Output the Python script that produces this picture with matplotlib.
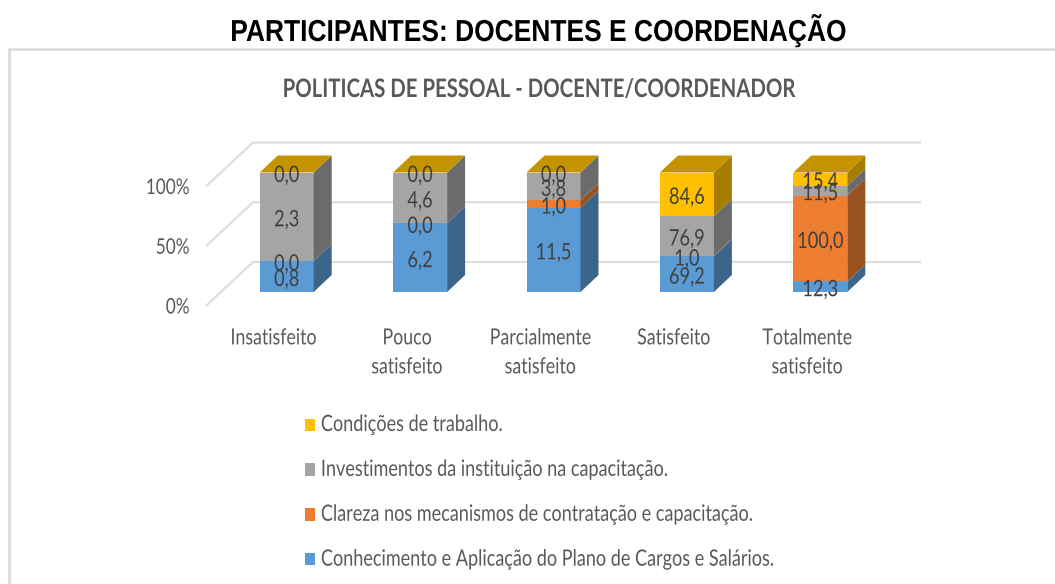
import matplotlib
matplotlib.use("Agg")
import matplotlib.pyplot as plt
from matplotlib.patches import Polygon, Patch
from matplotlib.patheffects import AbstractPathEffect
from matplotlib.lines import Line2D
from matplotlib.transforms import Affine2D
from matplotlib.colors import to_rgb

categories = ["Insatisfeito", "Pouco\nsatisfeito", "Parcialmente\nsatisfeito", "Satisfeito", "Totalmente\nsatisfeito"]
conhecimento = [0.8, 6.2, 11.5, 69.2, 12.3]
clareza = [0.0, 0.0, 1.0, 1.0, 100.0]
investimentos = [2.3, 4.6, 3.8, 76.9, 11.5]
condicoes = [0.0, 0.0, 0.0, 84.6, 15.4]
y_ticks = [0, 50, 100]
y_tick_labels = ["0%", "50%", "100%"]
series = [
    ("Conhecimento e Aplicação do Plano de Cargos e Salários.", conhecimento, "#5B9BD5"),
    ("Clareza nos mecanismos de contratação e capacitação.", clareza, "#ED7D31"),
    ("Investimentos da instituição na capacitação.", investimentos, "#A5A5A5"),
    ("Condições de trabalho.", condicoes, "#FFC000"),
]
title = "POLITICAS DE PESSOAL - DOCENTE/COORDENADOR"
heading = "PARTICIPANTES: DOCENTES E COORDENAÇÃO"

W, H = 1055, 584
FONT = "Lato"
TXT = "#595959"
GRID = "#DEDEDE"


class TallText(AbstractPathEffect):
    """Draws the glyphs taller about their baseline: the reference text is condensed."""

    def __init__(self, k, shift=0):
        super().__init__()
        self.k = k
        self.shift = shift

    def draw_path(self, renderer, gc, tpath, affine, rgbFace=None):
        renderer.draw_path(gc, tpath, Affine2D().scale(1, self.k) + affine + Affine2D().translate(0, self.shift), rgbFace)


tall = [TallText(1.25)]

fig = plt.figure(figsize=(W / 100, H / 100), dpi=100, facecolor="white")
L, R, B, T = 207, 874, 305, 185.5
ax = fig.add_axes([L / W, 1 - B / H, (R - L) / W, (B - T) / H])
ax.set_xlim(-0.5, 4.5)
ax.set_ylim(0, 100)
ax.patch.set_visible(False)
for s in ax.spines.values():
    s.set_visible(False)
px_x = 5 / (R - L)
px_y = 100 / (B - T)

# walls
for v in y_ticks:
    ax.plot([-0.5, -0.5 + 46 * px_x, 4.5 + 46 * px_x], [v, v + 43 * px_y, v + 43 * px_y],
            color=GRID, lw=1.6, clip_on=False, zorder=1, solid_joinstyle="miter")

# bars stand in the middle of the floor
front = ax.transData + Affine2D().translate(13, 13)
w = 54 * px_x
dx, dy = 18 * px_x, 17 * px_y
totals = [sum(s[1][i] for s in series) for i in range(len(categories))]


def shade(c, f):
    return tuple(v * f for v in to_rgb(c))


for i in range(len(categories)):
    base = 0.0
    xl, xr = i - w / 2, i + w / 2
    labels = []
    for name, vals, col in series:
        h = vals[i] / totals[i] * 100
        if h > 0:
            ax.bar(i, h, w, bottom=base, color=col, transform=front, zorder=3, clip_on=False, lw=0)
            ax.add_patch(Polygon([(xr, base), (xr + dx, base + dy), (xr + dx, base + h + dy), (xr, base + h)],
                                 closed=True, fc=shade(col, 0.65), ec="none", transform=front, zorder=3, clip_on=False))
        labels.append((base + h / 2, f"{vals[i]:.1f}".replace(".", ",")))
        base += h
    ax.add_patch(Polygon([(xl, base), (xl + dx, base + dy), (xr + dx, base + dy), (xr, base)],
                         closed=True, fc=shade(series[-1][2], 0.77), ec="none", transform=front, zorder=3, clip_on=False))
    for y, t in labels:
        ax.text(i, y, t, transform=front + Affine2D().translate(0, -4.5), ha="center", va="center",
                fontsize=13.1, family=FONT, color="#404040", zorder=5, path_effects=tall)

ax.set_xticks(range(len(categories)), categories)
ax.set_yticks(y_ticks, y_tick_labels)
ax.tick_params(axis="both", length=0, labelsize=12.4, labelcolor=TXT)
ax.tick_params(axis="x", pad=19)
ax.tick_params(axis="y", pad=12.5)
for lab in ax.get_xticklabels():
    lab.set_family(FONT)
    lab.set_linespacing(2.0)
    lab.set_fontsize(12.8)
    lab.set_path_effects(tall)
for lab in ax.get_yticklabels():
    lab.set_family(FONT)
    lab.set_path_effects([TallText(1.25, -2)])

handles = [Patch(fc=c, ec="none", label=n) for n, _, c in reversed(series)]
leg = fig.legend(handles=handles, loc="upper left", bbox_to_anchor=(305 / W, 1 - 418 / H), frameon=False,
                 prop={"family": FONT, "size": 13.0}, labelcolor=TXT, labelspacing=1.6,
                 handlelength=0.55, handleheight=0.66, handletextpad=0.33, borderpad=0, borderaxespad=0)
for t in leg.get_texts():
    t.set_path_effects(tall)

fig.text(538 / W, 1 - 41 / H, heading, ha="center", va="baseline", family="Liberation Sans",
         fontweight="bold", fontsize=19, color="black", path_effects=[TallText(1.15)])
fig.text(538.5 / W, 1 - 97 / H, title, ha="center", va="baseline", family=FONT,
         fontweight="bold", fontsize=14.66, color=TXT, path_effects=tall)

fig.add_artist(Line2D([8.5 / W, 8.5 / W, 1], [0, 1 - 48.5 / H, 1 - 48.5 / H], color="#D9D9D9", lw=1.8,
                      solid_joinstyle="miter"))

fig.savefig("out.png", dpi=100)
